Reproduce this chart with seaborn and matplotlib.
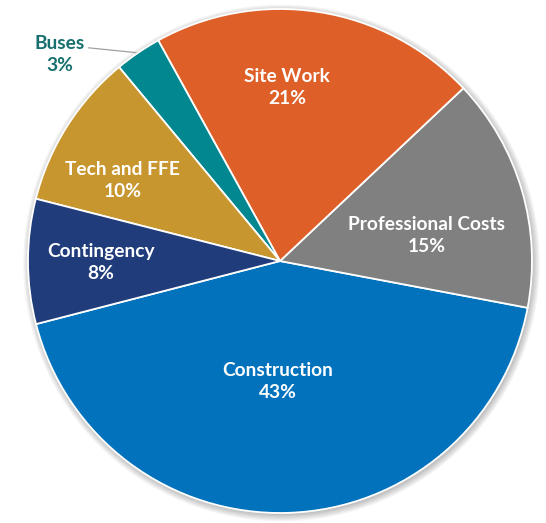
import numpy as np
import matplotlib.pyplot as plt
import seaborn as sns
from matplotlib.patches import Circle

# data
labels = ["Construction", "Professional Costs", "Site Work", "Buses", "Tech and FFE", "Contingency"]
shares = [43, 15, 21, 3, 10, 8]
colors = ["#0272BC", "#808080", "#DF5F28", "#00878F", "#C8962E", "#203C7A"]

sns.set_theme(style="white")
plt.rcParams['font.family'] = ['Lato', 'DejaVu Sans']

fig = plt.figure(figsize=(5.46, 5.23), dpi=100)
ax = fig.add_axes([0, 0, 1, 1])

# soft drop shadow behind the pie
for k in range(6):
    ax.add_patch(Circle((0.006, -0.008), 1.0 + k * 0.005, color="black",
                        alpha=0.045, lw=0, zorder=0))

wedges, _ = ax.pie(shares, colors=sns.color_palette(colors), startangle=-165.5,
                   counterclock=True, radius=1.0,
                   wedgeprops=dict(edgecolor="white", linewidth=1.3, zorder=2))

# label placement (angle in degrees, radius as fraction of pie radius)
label_pos = {
    "Construction": (-91, 0.48),
    "Professional Costs": (10.0, 0.59),
    "Site Work": (87.7, 0.69),
    "Tech and FFE": (153, 0.70),
    "Contingency": (180.5, 0.71),
}
for name, val in zip(labels, shares):
    if name in label_pos:
        ang, r = label_pos[name]
        x, y = r * np.cos(np.radians(ang)), r * np.sin(np.radians(ang))
        ax.text(x, y, f"{name}\n{val}%", ha="center", va="center", color="white",
                fontsize=13.8, fontweight="bold", linespacing=1.35, zorder=5)

# Buses: label outside with a leader line
bw = wedges[labels.index("Buses")]
mid = np.radians((bw.theta1 + bw.theta2) / 2)
ax.plot([np.cos(mid), -0.76], [np.sin(mid), 0.846], color="#A0A0A0", lw=0.9, zorder=1)
ax.text(-0.873, 0.82, f"Buses\n{shares[labels.index('Buses')]}%", ha="center", va="center",
        color="#17706F", fontsize=13.8, fontweight="bold", linespacing=1.35)

ax.set_xlim(-280 / 252, 266 / 252)
ax.set_ylim(-262 / 252, 261 / 252)
ax.set_aspect("auto")
ax.axis("off")

fig.savefig("out.png", dpi=100, facecolor="white")
plt.close()
